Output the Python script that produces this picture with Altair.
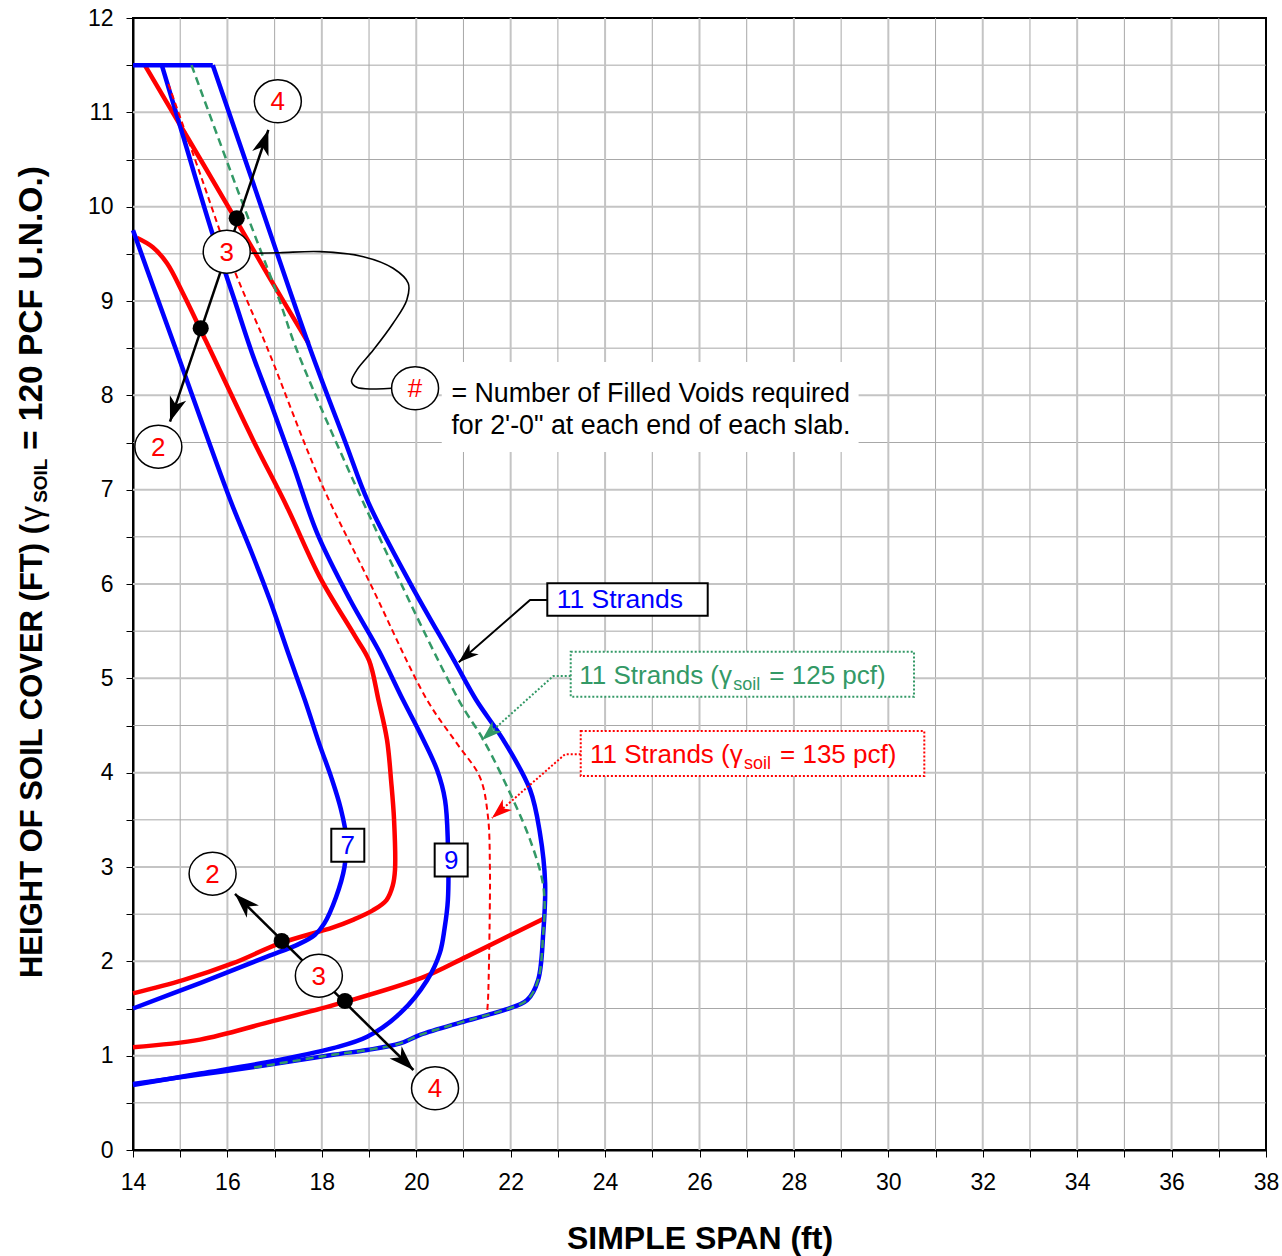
import math
import altair as alt
import pandas as pd

# ---------------- scales / layout ----------------
X_DOMAIN = [14, 38]
Y_DOMAIN = [0, 12]
W, H = 1133, 1132
KX = W / (X_DOMAIN[1] - X_DOMAIN[0])
KY = H / (Y_DOMAIN[1] - Y_DOMAIN[0])
FONT = "Liberation Sans"
BLUE = "#0000ff"
RED = "#ff0000"
GREEN = "#339966"

# ---------------- tick / grid values ----------------
x_ticks = list(range(14, 39))
y_ticks = [i * 0.5 for i in range(25)]
x_major_grid = list(range(16, 38, 2))
x_minor_grid = list(range(15, 38, 2))
y_major_grid = list(range(1, 12))
y_minor_grid = [i + 0.5 for i in range(12)]

# ---------------- curve data ----------------
top_x = [14.0, 15.69]
top_y = [11.5, 11.5]

blue7_x = [14.0, 15.42, 16.84, 17.5, 17.85, 18.05, 18.3, 18.48, 18.52, 18.4, 18.2, 17.95, 17.64, 17.3, 16.9, 16.5, 16.06, 15.14, 14.9, 14.53, 14.0]
blue7_y = [1.5, 1.77, 2.05, 2.18, 2.28, 2.4, 2.68, 3.0, 3.3, 3.62, 3.95, 4.3, 4.77, 5.25, 5.83, 6.35, 6.89, 8.16, 8.5, 9.01, 9.75]

blue9_x = [14.61, 15.06, 15.66, 16.15, 16.52, 16.93, 17.4, 17.9, 18.6, 19.2, 19.72, 20.1, 20.44, 20.61, 20.67, 20.67, 20.6, 20.5, 20.23, 19.66, 18.96, 18.24, 16.84, 15.42, 14.0]
blue9_y = [11.5, 10.75, 9.75, 9.01, 8.45, 7.9, 7.25, 6.54, 5.83, 5.3, 4.77, 4.4, 4.03, 3.71, 3.25, 2.65, 2.35, 2.09, 1.8, 1.45, 1.2, 1.08, 0.93, 0.81, 0.69]

blue11_x = [15.69, 16.6, 17.74, 18.5, 18.98, 19.87, 20.8, 21.27, 21.84, 22.41, 22.62, 22.73, 22.69, 22.58, 22.35, 21.84, 21.5, 20.93, 20.08, 19.66, 18.96, 18.24, 16.84, 15.42, 14.0]
blue11_y = [11.5, 10.17, 8.51, 7.5, 6.87, 6.01, 5.19, 4.77, 4.35, 3.82, 3.36, 2.83, 2.3, 1.8, 1.59, 1.48, 1.43, 1.35, 1.22, 1.13, 1.06, 1.01, 0.9, 0.8, 0.7]

red2_x = [14.0, 15.06, 16.12, 17.11, 18.24, 18.66, 19.08, 19.37, 19.5, 19.55, 19.53, 19.47, 19.38, 19.2, 19.0, 18.7, 17.96, 17.26, 16.54, 15.55, 15.06, 14.72, 14.42, 14.08]
red2_y = [1.66, 1.8, 1.98, 2.19, 2.36, 2.44, 2.54, 2.65, 2.8, 2.97, 3.5, 3.9, 4.35, 4.77, 5.19, 5.45, 6.07, 6.82, 7.53, 8.57, 9.08, 9.4, 9.57, 9.67]

red3_upper_x = [14.25, 15.17, 16.1, 16.9, 17.72]
red3_upper_y = [11.5, 10.72, 9.93, 9.24, 8.55]

red3_lower_x = [14.0, 15.42, 16.84, 18.49, 20.14, 21.07, 22.73]
red3_lower_y = [1.09, 1.17, 1.35, 1.57, 1.83, 2.05, 2.46]

green_x = [15.24, 16.19, 17.1, 17.47, 19.02, 20.9, 21.42, 21.99, 22.41, 22.67, 22.72, 22.69, 22.58, 22.35, 21.84, 21.5, 20.93, 20.08, 19.66, 18.96, 18.24, 16.52]
green_y = [11.5, 10.21, 9.01, 8.48, 6.71, 4.77, 4.35, 3.78, 3.29, 2.86, 2.6, 2.3, 1.8, 1.59, 1.48, 1.43, 1.35, 1.22, 1.13, 1.06, 1.01, 0.87]

red135_x = [14.75, 15.42, 16.12, 16.83, 17.96, 19.02, 20.23, 20.86, 21.35, 21.52, 21.56, 21.56, 21.52, 21.5]
red135_y = [11.3, 10.35, 9.36, 8.52, 7.1, 6.01, 4.77, 4.31, 3.95, 3.53, 3.0, 2.65, 1.59, 1.46]

# ---------------- annotation data ----------------
circle_x = [14.537, 15.985, 17.068, 15.686, 17.937, 20.398, 19.975]
circle_y = [7.456, 9.523, 11.117, 2.929, 1.848, 0.654, 8.075]
circle_t = ["2", "3", "4", "2", "3", "4", "#"]

dot_x = [16.197, 15.434, 17.15, 18.49]
dot_y = [9.877, 8.711, 2.216, 1.58]

box_x = [18.55, 20.74]
box_y = [3.23, 3.074]
box_t = ["7", "9"]

arrow_up = [(14.784, 7.721), (16.867, 10.813)]
arrow_low = [(16.161, 2.714), (19.94, 0.848)]

leader_hash_x = [16.48, 17.11, 17.96, 18.88, 19.51, 19.83, 19.80, 19.51, 19.09, 18.74, 18.63, 18.74, 19.09, 19.48]
leader_hash_y = [9.506, 9.512, 9.523, 9.47, 9.347, 9.188, 9.011, 8.764, 8.48, 8.268, 8.145, 8.085, 8.067, 8.075]

lead_blue = [(22.776, 5.83), (22.41, 5.83), (20.9, 5.17)]
lead_green = [(23.272, 5.025), (22.904, 5.025), (21.393, 4.346)]
lead_red = [(23.484, 4.195), (23.151, 4.195), (21.605, 3.519)]

note_lines = ["= Number of Filled Voids required", "for 2'-0\" at each end of each slab."]

# ---------------- encodings ----------------
xscale = alt.Scale(domain=X_DOMAIN, nice=False, zero=False)
yscale = alt.Scale(domain=Y_DOMAIN, nice=False, zero=False)
xaxis = alt.Axis(
    values=x_ticks,
    labelExpr="datum.value % 2 === 0 ? format(datum.value, 'd') : ''",
    title="SIMPLE SPAN (ft)", titleFont=FONT, titleFontSize=32, titleFontWeight="bold",
    titleColor="black", titleY=98, titleBaseline="alphabetic",
    labelFont=FONT, labelFontSize=23, labelColor="black", labelPadding=14,
    labelFlush=False, labelOverlap=False,
    tickSize=7, tickColor="black", tickWidth=1,
    domainColor="black", domainWidth=2, grid=False,
)
yaxis = alt.Axis(
    values=y_ticks,
    labelExpr="datum.value % 1 === 0 ? format(datum.value, 'd') : ''",
    title=None,
    labelFont=FONT, labelFontSize=23, labelColor="black", labelPadding=13,
    labelFlush=False, labelOverlap=False,
    tickSize=7, tickColor="black", tickWidth=1,
    domainColor="black", domainWidth=2, grid=False,
)


def X(f="x"):
    return alt.X(f"{f}:Q", scale=xscale, axis=xaxis)


def Y(f="y"):
    return alt.Y(f"{f}:Q", scale=yscale, axis=yaxis)


def curve(xs, ys, color, width, dash=None, interp="linear"):
    df = pd.DataFrame({"x": xs, "y": ys, "i": list(range(len(xs)))})
    kw = dict(color=color, strokeWidth=width, strokeJoin="round", interpolate=interp)
    if dash:
        kw["strokeDash"] = dash
    return alt.Chart(df).mark_line(**kw).encode(x=X(), y=Y(), order="i:Q")


def angle(p0, p1):
    dxp = (p1[0] - p0[0]) * KX
    dyp = -(p1[1] - p0[1]) * KY
    return math.degrees(math.atan2(dxp, -dyp)) % 360


ARROW = "M0,0 L0.55,1.6 L0,1.15 L-0.55,1.6 Z"
ELLIPSE = "M-1,0 A1,0.915 0 1,0 1,0 A1,0.915 0 1,0 -1,0 Z"


def heads(points, color, size):
    df = pd.DataFrame({"x": [p[0] for p in points], "y": [p[1] for p in points],
                       "a": [p[2] for p in points]})
    return alt.Chart(df).mark_point(shape=ARROW, filled=True, color=color, size=size,
                                    opacity=1, strokeWidth=0).encode(
        x=X(), y=Y(), angle=alt.Angle("a:Q", scale=None))


def text(xs, ys, ts, color, size, align="left", baseline="alphabetic", weight="normal", ang=0, dy=0):
    df = pd.DataFrame({"x": xs, "y": ys, "t": ts})
    return alt.Chart(df).mark_text(color=color, fontSize=size, font=FONT, align=align,
                                   baseline=baseline, fontWeight=weight, angle=ang, dy=dy).encode(
        x=X(), y=Y(), text="t:N")


def rect(x1, x2, y1, y2, stroke, dash=None, width=2):
    df = pd.DataFrame({"x": [x1], "x2": [x2], "y": [y1], "y2": [y2]})
    kw = dict(fill="white", stroke=stroke, strokeWidth=width)
    if dash:
        kw["strokeDash"] = dash
    return alt.Chart(df).mark_rect(**kw).encode(x=X(), x2="x2:Q", y=Y(), y2="y2:Q")


SMOOTH = "catmull-rom"
LW = 4.5

layers = []
# grid
layers.append(alt.Chart(pd.DataFrame({"x": x_minor_grid})).mark_rule(color="#a8a8a8", strokeWidth=1).encode(x=X()))
layers.append(alt.Chart(pd.DataFrame({"y": y_minor_grid})).mark_rule(color="#a8a8a8", strokeWidth=1).encode(y=Y()))
layers.append(alt.Chart(pd.DataFrame({"x": x_major_grid})).mark_rule(color="#c4c4c4", strokeWidth=2).encode(x=X()))
layers.append(alt.Chart(pd.DataFrame({"y": y_major_grid})).mark_rule(color="#c4c4c4", strokeWidth=2).encode(y=Y()))
# note background
bg = pd.DataFrame({"x": [20.54], "x2": [29.37], "y": [8.354], "y2": [7.40]})
layers.append(alt.Chart(bg).mark_rect(fill="white").encode(x=X(), x2="x2:Q", y=Y(), y2="y2:Q"))

# curves
layers.append(curve(red2_x, red2_y, RED, LW, interp=SMOOTH))
layers.append(curve(red3_upper_x, red3_upper_y, RED, LW, interp=SMOOTH))
layers.append(curve(red3_lower_x, red3_lower_y, RED, LW, interp=SMOOTH))
layers.append(curve(top_x, top_y, BLUE, LW))
layers.append(curve(blue7_x, blue7_y, BLUE, LW, interp=SMOOTH))
layers.append(curve(blue9_x, blue9_y, BLUE, LW, interp=SMOOTH))
layers.append(curve(blue11_x, blue11_y, BLUE, LW, interp=SMOOTH))
layers.append(curve(red135_x, red135_y, RED, 2, dash=[6, 4], interp=SMOOTH))
layers.append(curve(green_x, green_y, GREEN, 2.5, dash=[8, 5], interp=SMOOTH))

# double arrows with dots and circled numbers
layers.append(curve([p[0] for p in arrow_up], [p[1] for p in arrow_up], "black", 2.5))
layers.append(curve([p[0] for p in arrow_low], [p[1] for p in arrow_low], "black", 2.5))
layers.append(curve(leader_hash_x, leader_hash_y, "black", 1.6, interp=SMOOTH))
layers.append(heads([
    (arrow_up[1][0], arrow_up[1][1], angle(arrow_up[0], arrow_up[1])),
    (arrow_up[0][0], arrow_up[0][1], angle(arrow_up[1], arrow_up[0])),
    (arrow_low[1][0], arrow_low[1][1], angle(arrow_low[0], arrow_low[1])),
    (arrow_low[0][0], arrow_low[0][1], angle(arrow_low[1], arrow_low[0])),
], "black", 980))
layers.append(alt.Chart(pd.DataFrame({"x": dot_x, "y": dot_y})).mark_point(
    shape="circle", filled=True, color="black", size=260, opacity=1).encode(x=X(), y=Y()))
layers.append(alt.Chart(pd.DataFrame({"x": circle_x, "y": circle_y})).mark_point(
    shape=ELLIPSE, filled=True, fill="white", stroke="black", strokeWidth=1.5, size=2209,
    opacity=1).encode(x=X(), y=Y()))
layers.append(text(circle_x, circle_y, circle_t, RED, 26, align="center", baseline="middle", dy=1))

# strand-count boxes
layers.append(alt.Chart(pd.DataFrame({"x": box_x, "y": box_y})).mark_point(
    shape="square", filled=True, fill="white", stroke="black", strokeWidth=2, size=1090,
    opacity=1).encode(x=X(), y=Y()))
layers.append(text(box_x, box_y, box_t, BLUE, 26, align="center", baseline="middle", dy=1))

# callout labels
layers.append(curve([p[0] for p in lead_blue], [p[1] for p in lead_blue], "black", 2))
layers.append(curve([p[0] for p in lead_green], [p[1] for p in lead_green], GREEN, 2, dash=[2, 2]))
layers.append(curve([p[0] for p in lead_red], [p[1] for p in lead_red], RED, 2, dash=[2, 2]))
layers.append(heads([(lead_blue[2][0], lead_blue[2][1], angle(lead_blue[1], lead_blue[2]))], "black", 650))
layers.append(heads([(lead_green[2][0], lead_green[2][1], angle(lead_green[1], lead_green[2]))], GREEN, 650))
layers.append(heads([(lead_red[2][0], lead_red[2][1], angle(lead_red[1], lead_red[2]))], RED, 650))

layers.append(rect(22.776, 26.174, 6.007, 5.664, "black"))
layers.append(text([22.975], [5.746], ["11 Strands"], BLUE, 26.5))

layers.append(rect(23.272, 30.544, 5.282, 4.805, GREEN, dash=[2, 2]))
layers.append(text([23.454], [4.937], ["11 Strands (\u03b3"], GREEN, 26))
layers.append(text([26.716], [4.876], ["soil"], GREEN, 18))
layers.append(text([27.479], [4.937], ["= 125 pcf)"], GREEN, 26))

layers.append(rect(23.484, 30.762, 4.442, 3.965, RED, dash=[2, 2]))
layers.append(text([23.681], [4.099], ["11 Strands (\u03b3"], RED, 26))
layers.append(text([26.943], [4.039], ["soil"], RED, 18))
layers.append(text([27.706], [4.099], ["= 135 pcf)"], RED, 26))

# legend note
layers.append(text([20.745, 20.745], [7.929, 7.59], note_lines, "black", 26.8))

# y-axis title (with subscript)
layers.append(text([12.072], [1.823], ["HEIGHT OF SOIL COVER (FT) ("], "black", 31, weight="bold", ang=270))
layers.append(text([12.072], [6.657], ["\u03b3"], "black", 32, ang=270))
layers.append(text([12.178], [6.86], ["SOIL"], "black", 19, weight="bold", ang=270))
layers.append(text([12.072], [7.42], ["= 120 PCF U.N.O.)"], "black", 33.5, weight="bold", ang=270))

chart = alt.layer(*layers).properties(
    width=W, height=H,
    padding={"left": 133, "top": 18, "right": 16, "bottom": 106},
    autosize=alt.AutoSizeParams(type="none"),
    background="white",
).configure_view(stroke="black", strokeWidth=2)

chart.save("out.html", embed_options={"renderer": "svg", "actions": False})
